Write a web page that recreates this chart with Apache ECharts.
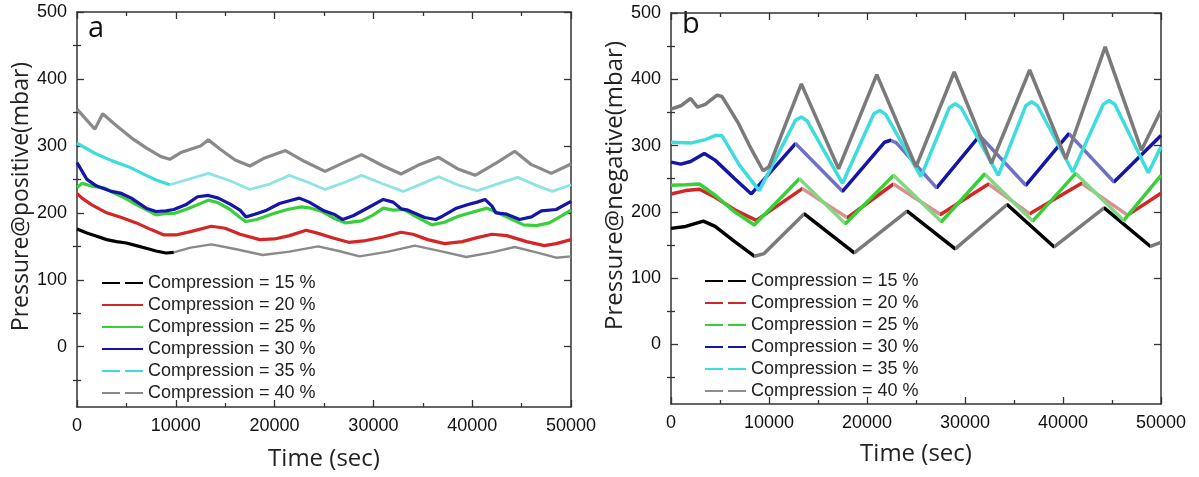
<!DOCTYPE html>
<html>
<head>
<meta charset="utf-8">
<script src="https://cdn.jsdelivr.net/npm/echarts@6/dist/echarts.min.js"></script>
<style>
html,body{margin:0;padding:0;background:#fff;}
#chart{width:1199px;height:477px;}
</style>
</head>
<body>
<div id="chart"></div>
<script>
// ---------- data (time in s, pressure in mbar) ----------
const seriesNames = ["Compression = 15 %","Compression = 20 %","Compression = 25 %","Compression = 30 %","Compression = 35 %","Compression = 40 %"];
const xTicks = [0,10000,20000,30000,40000,50000];
const yTickLabels = [0,100,200,300,400,500];
const yMinorTicks = [-50,50,150,250,350,450];

// Panel a : Pressure@positive
const a15 = [[0,176],[1000,170],[2000,165],[3000,160],[4000,157],[5000,155],[6000,151],[7000,147],[8000,143],[9000,140],[9800,141]];
const a15late = [[9800,141],[11500,148],[13600,153],[16000,146],[18800,137],[21500,142],[24400,150],[26500,143],[28600,135],[31500,142],[34200,151],[37000,142],[39400,134],[42000,141],[44300,149],[46500,141],[48500,133],[50000,135]];
const a20 = [[0,229],[500,222],[1500,212],[3000,200],[4500,193],[6000,185],[7500,175],[8800,167],[10000,167],[11500,172],[13600,180],[15000,177],[16500,168],[18500,160],[20000,161],[21500,166],[23200,174],[24500,169],[26000,162],[27500,156],[29000,158],[31000,164],[32800,171],[34000,168],[35500,160],[37200,154],[39000,157],[40500,163],[42000,168],[43500,166],[45500,157],[47300,151],[48500,154],[50000,160]];
const a25 = [[0,238],[500,244],[1500,240],[2800,237],[3700,230],[4600,224],[5800,214],[7000,205],[8000,197],[9000,199],[9800,199],[11000,205],[12200,212],[13300,219],[14300,215],[15500,205],[16500,193],[17100,187],[18200,190],[19900,199],[21300,205],[22700,209],[23700,207],[24800,202],[26000,192],[27200,185],[28800,188],[30000,197],[31000,207],[32000,204],[33100,205],[34500,193],[35900,182],[37200,186],[38600,195],[40000,201],[41500,207],[42600,200],[43800,192],[45200,182],[46500,181],[47800,185],[49000,195],[50000,204]];
const a30 = [[0,275],[1000,250],[2000,240],[3500,232],[4500,229],[5500,222],[7000,207],[8000,202],[9000,203],[9800,205],[11000,212],[12200,224],[13300,226],[14300,222],[15500,213],[16500,204],[17100,194],[18000,198],[19200,204],[20500,214],[21500,218],[22500,222],[23500,216],[25000,203],[26000,198],[26900,190],[28000,196],[29500,208],[31000,220],[32000,216],[32800,206],[33500,204],[35200,193],[36300,190],[37000,195],[38400,207],[39500,212],[40500,216],[41300,220],[42000,210],[42400,200],[43500,198],[44800,190],[46000,194],[47000,203],[48500,205],[50000,217]];
const a35 = [[0,304],[1800,289],[3500,278],[5200,269],[7000,256],[8000,249],[9400,242]];
const a35late = [[9400,242],[11500,251],[13300,259],[15500,248],[17500,235],[19500,243],[21500,256],[23500,245],[25100,235],[27000,245],[28800,256],[31000,243],[33000,232],[35000,244],[36600,254],[38500,242],[40500,233],[42500,243],[44600,253],[46500,241],[48100,232],[50000,242]];
const a40 = [[0,355],[1800,325],[2600,348],[4000,330],[5500,312],[7000,297],[8500,284],[9400,280],[10500,290],[11500,295],[12500,300],[13300,309],[14500,295],[16000,279],[17500,270],[19000,282],[21100,293],[23000,277],[25100,262],[27000,275],[28800,287],[31000,270],[32800,258],[34500,271],[36600,283],[38500,266],[40300,256],[42500,275],[44300,292],[46000,272],[48000,259],[50000,273]];

// Panel b : Pressure@negative
const b15 = [[0,175],[1500,178],[3300,186],[4500,178],[6500,155],[8500,133],[9500,137],[13600,197],[18700,138],[24100,201],[29000,144],[34300,211],[39100,147],[44200,206],[48900,148],[50000,154]];
const b20 = [[0,227],[1500,232],[2900,234],[4500,222],[6500,203],[8700,187],[13400,235],[18000,191],[22700,242],[27500,196],[32400,242],[36600,197],[41900,243],[46600,195],[50000,228]];
const b25 = [[0,240],[1500,241],[2900,242],[4500,225],[6500,200],[8500,180],[13100,250],[17800,182],[22700,255],[27600,185],[32000,257],[36900,186],[41300,258],[46200,187],[50000,255]];
const b30 = [[0,275],[1000,272],[2000,276],[3400,288],[4500,278],[6500,250],[8200,227],[12700,303],[17500,231],[21800,305],[22400,308],[23000,304],[27100,236],[31500,315],[36200,240],[40600,318],[45200,245],[50000,315]];
const b35 = [[0,305],[2100,304],[3500,309],[4500,315],[5200,315],[7000,270],[9000,232],[12700,338],[13300,343],[13900,337],[17500,243],[20700,348],[21300,353],[21900,347],[25500,253],[28400,357],[29000,363],[29600,357],[33400,255],[36200,360],[36800,366],[37400,360],[41000,260],[44100,362],[44700,368],[45300,362],[48700,259],[50000,298]];
const b40 = [[0,355],[1000,360],[2000,371],[2700,358],[3500,362],[4700,376],[5200,374],[6000,355],[6900,333],[8000,300],[9400,262],[10000,268],[13300,393],[17100,265],[21000,407],[25000,268],[28900,411],[32700,273],[36600,414],[40300,280],[44300,449],[48000,293],[50000,353]];

// time ranges (s) where panel-b traces are drawn in a lighter tone
const b15LightRanges = [[8500,13600],[18700,24100],[29000,34300],[39100,44200],[48900,50000]];
const b20LightRanges = [[13400,18000],[22700,27500],[32400,36600],[41900,46600]];
const b25LightRanges = [[13100,17800],[22700,27600],[32000,36900],[41300,46200]];
const b30LightRanges = [[12700,17500],[22400,27100],[31500,36200],[40600,45200]];

const colors = ["#000000","#d42626","#38cf38","#1515a8","#3edcdc","#8a8a8a"];
const lightColorsB = ["#7a7a7a","#d99090","#80d880","#7070c6"];
const colorsLate = {a15:"#8a8a8a", a35:"#8ee3e3"};
const colorB40 = "#7a7a7a";

// ---------- option ----------
const tickFont = {fontSize:18, color:"#111", fontFamily:"Liberation Sans, Arial, sans-serif"};
const axisLineStyle = {color:"#333", width:1.5};

function xAxes(grid){
  const base = {gridIndex:grid, type:"value", min:0, max:50000, interval:10000,
    axisLine:{show:true, onZero:false, lineStyle:axisLineStyle},
    axisTick:{show:true, inside:true, length:7, lineStyle:{color:"#333", width:1.3}},
    minorTick:{show:true, splitNumber:2, length:4, lineStyle:{color:"#333", width:1.3}},
    splitLine:{show:false}};
  return [
    Object.assign({}, base, {position:"bottom",
      axisLabel:Object.assign({margin:10, formatter:(v)=>String(v)}, tickFont),
      name:"Time (sec)", nameLocation:"middle", nameGap: grid===0?40:38,
      nameTextStyle:{fontSize:24, color:"#222", fontFamily:"Open Sans, sans-serif"}}),
    Object.assign({}, base, {position:"top", axisLabel:{show:false}})
  ];
}
function yAxes(grid, title, gap, pad, fs){
  const base = {gridIndex:grid, type:"value", min:-90, max:500, splitLine:{show:false}};
  const major = {show:true, inside:true, length:7, customValues:yTickLabels, lineStyle:{color:"#333", width:1.3}};
  const minor = {show:true, inside:true, length:4, customValues:yMinorTicks, lineStyle:{color:"#333", width:1.3}};
  return [
    Object.assign({}, base, {position:"left", axisLine:{show:true, onZero:false, lineStyle:axisLineStyle},
      axisTick:major, axisLabel:Object.assign({margin:10, customValues:yTickLabels, formatter:(v)=>String(v)}, tickFont),
      name:title, nameLocation:"middle", nameGap:gap,
      nameTextStyle:{fontSize:fs, color:"#222", fontFamily:"Open Sans, sans-serif", padding:[0,0,0,pad]}}),
    Object.assign({}, base, {position:"left", axisLine:{show:false}, axisTick:minor, axisLabel:{show:false}}),
    Object.assign({}, base, {position:"right", axisLine:{show:true, onZero:false, lineStyle:axisLineStyle}, axisTick:major, axisLabel:{show:false}}),
    Object.assign({}, base, {position:"right", axisLine:{show:false}, axisTick:minor, axisLabel:{show:false}})
  ];
}

function line(name, data, color, xi, yi, width){
  const s = {type:"line", name:name, data:data, xAxisIndex:xi, yAxisIndex:yi,
    symbol:"none", lineStyle:{width:width||3.2}, animation:false, z:2};
  if (color) { s.lineStyle.color = color; s.itemStyle = {color:color}; }
  return s;
}

const series = [
  line(seriesNames[0], a15, colors[0], 0, 0, 3.2),
  line(seriesNames[0], a15late, colorsLate.a15, 0, 0, 2.4),
  line(seriesNames[1], a20, colors[1], 0, 0),
  line(seriesNames[2], a25, colors[2], 0, 0),
  line(seriesNames[3], a30, colors[3], 0, 0),
  line(seriesNames[4], a35, colors[4], 0, 0),
  line(seriesNames[4], a35late, colorsLate.a35, 0, 0, 2.8),
  line(seriesNames[5], a40, colors[5], 0, 0),
  line(seriesNames[0], b15, null, 2, 4, 3.5),        // 8  (colour from visualMap)
  line(seriesNames[1], b20, null, 2, 4, 3.5),        // 9
  line(seriesNames[2], b25, null, 2, 4, 3.5),        // 10
  line(seriesNames[3], b30, null, 2, 4, 3.5),        // 11
  line(seriesNames[4], b35, colors[4], 2, 4, 3.5),   // 12
  line(seriesNames[5], b40, colorB40, 2, 4, 3.5)     // 13
];

function sectionMap(seriesIndex, ranges, light, base){
  return {type:"piecewise", show:false, dimension:0, seriesIndex:seriesIndex,
    pieces: ranges.map(r=>({gte:r[0], lte:r[1], color:light})),
    outOfRange:{color:base}};
}

const dashA = [true,false,false,false,true,true];
function legend(left, top, dashFlags, cols){
  return {left:left, top:top, orient:"vertical", itemWidth:41, itemHeight:14, itemGap:4,
    padding:0, selectedMode:false,
    textStyle:{fontSize:18, lineHeight:18, color:"#222", fontFamily:"Liberation Sans, Arial, sans-serif"},
    lineStyle:{width:2},
    itemStyle:{opacity:0},
    data: seriesNames.map((n,i)=>({name:n,
      lineStyle:{width:2, color:cols[i], type: dashFlags[i] ? [18,5] : "solid"},
      itemStyle:{color:cols[i], opacity:0}}))
  };
}

const option = {
  backgroundColor:"#fff",
  animation:false,
  grid:[
    {left:77, right:1199-571, top:12, bottom:477-407, containLabel:false},
    {left:671, right:1199-1161, top:13, bottom:477-404, containLabel:false}
  ],
  xAxis:[].concat(xAxes(0), xAxes(1)),
  yAxis:[].concat(yAxes(0,"Pressure@positive(mbar)",40,26,23), yAxes(1,"Pressure@negative(mbar)",41,46,24)),
  visualMap:[
    sectionMap(8, b15LightRanges, lightColorsB[0], colors[0]),
    sectionMap(9, b20LightRanges, lightColorsB[1], colors[1]),
    sectionMap(10, b25LightRanges, lightColorsB[2], colors[2]),
    sectionMap(11, b30LightRanges, lightColorsB[3], colors[3])
  ],
  legend:[
    legend(101, 274, dashA, colors),
    legend(704, 272, [true,true,true,true,true,true], [colors[0],colors[1],colors[2],colors[3],colors[4],"#8f8f8f"])
  ],
  graphic:[
    {type:"text", left:88, top:14, style:{text:"a", fontSize:29, fill:"#111", fontFamily:"Open Sans, sans-serif"}},
    {type:"text", left:682, top:10, style:{text:"b", fontSize:29, fill:"#111", fontFamily:"Open Sans, sans-serif"}}
  ],
  series:series
};

const chart = echarts.init(document.getElementById("chart"), null, {renderer:"canvas"});
chart.setOption(option);
</script>
</body>
</html>
